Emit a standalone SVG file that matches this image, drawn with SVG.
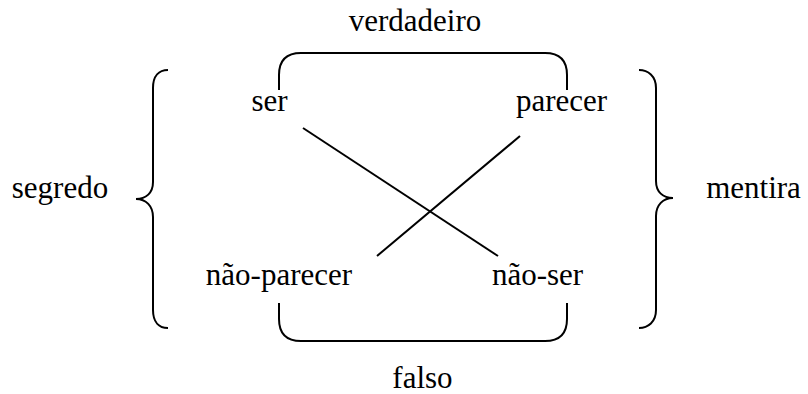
<svg xmlns="http://www.w3.org/2000/svg" width="808" height="394" viewBox="0 0 808 394">
<style>
text{font-family:"Liberation Serif","Times New Roman",serif;font-size:31px;fill:#000;text-anchor:middle}
.s{fill:none;stroke:#000;stroke-width:2}
</style>
<rect width="808" height="394" fill="#fff"/>
<g id="connectors">
<path class="s" d="M279,90 L279,75 Q279,53 301,53 L545,53 Q567,53 567,75 L567,90"/>
<path class="s" d="M279,303 L279,319 Q279,341 301,341 L545,341 Q567,341 567,319 L567,303"/>
<path class="s" d="M168,70 C159,70 153,76 153,88 L153,182 C153,193 146,199 136,199 C146,199 153,206 153,217 L153,310 C153,322 159,328 168,328"/>
<path class="s" d="M639,70 C648,70 656,76 656,88 L656,181 C656,192 663,198 673,198 C663,198 656,205 656,216 L656,310 C656,322 648,328 639,328"/>
<line class="s" x1="303" y1="128" x2="498" y2="256"/>
<line class="s" x1="520" y1="136" x2="377" y2="256"/>
</g>
<g id="ser"><text x="269.5" y="111">ser</text></g>
<g id="parecer"><text x="561.5" y="111">parecer</text></g>
<g id="nao-parecer"><text x="279" y="285">não-parecer</text></g>
<g id="nao-ser"><text x="537.5" y="285">não-ser</text></g>
<g id="verdadeiro"><text x="415" y="31">verdadeiro</text></g>
<g id="falso"><text x="422.5" y="388">falso</text></g>
<g id="segredo"><text x="60" y="198">segredo</text></g>
<g id="mentira"><text x="753.5" y="198">mentira</text></g>
</svg>
